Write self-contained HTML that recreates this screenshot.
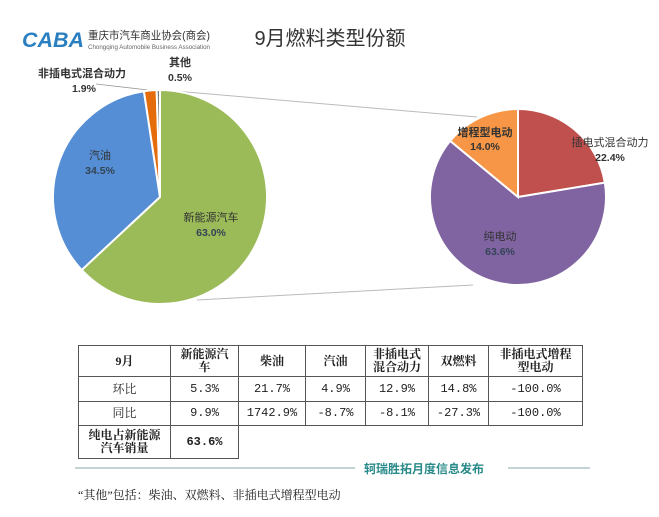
<!DOCTYPE html>
<html><head><meta charset="utf-8">
<style>
body{margin:0;width:659px;height:517px;background:#fff;position:relative;overflow:hidden;font-family:"Liberation Sans","Noto Sans CJK SC",sans-serif;}
svg{position:absolute;left:0;top:0}
table{position:absolute;left:78px;top:345px;border-collapse:collapse;font-family:"Liberation Serif","Noto Serif CJK SC",serif;font-size:12px;color:#222}
td{border:1px solid #555;text-align:center;padding:0;line-height:13px}
.b{font-weight:bold}
.m{font-family:"Liberation Mono","Noto Serif CJK SC",monospace;font-size:12px}
</style></head><body>
<svg width="659" height="517">
  <g>
    <text x="22" y="47" font-size="21" font-weight="bold" font-style="italic" fill="#2a7fc0" font-family="Liberation Sans,sans-serif" textLength="62" lengthAdjust="spacingAndGlyphs">CABA</text>
    <text x="88" y="39" font-size="11" fill="#333" textLength="122" lengthAdjust="spacingAndGlyphs">重庆市汽车商业协会(商会)</text>
    <text x="88" y="49" font-size="6.5" fill="#666" textLength="122" lengthAdjust="spacingAndGlyphs">Chongqing Automobile Business Association</text>
  </g>
  <text x="330" y="45" font-size="20" text-anchor="middle" fill="#333">9月燃料类型份额</text>
  <line x1="163" y1="90" x2="477" y2="117" stroke="#bbb" stroke-width="1"/>
  <line x1="197" y1="300" x2="473" y2="285" stroke="#bbb" stroke-width="1"/>
  <line x1="96" y1="84" x2="148" y2="90" stroke="#999" stroke-width="0.8"/>
  <g id="pie1"></g>
  <g id="pie2"></g>
  <g font-size="11" fill="#333" text-anchor="middle">
    <text x="100" y="159">汽油</text>
    <text x="100" y="174" font-size="10.5" font-weight="bold" fill="#345">34.5%</text>
    <text x="211" y="221">新能源汽车</text>
    <text x="211" y="236" font-size="10.5" font-weight="bold" fill="#345">63.0%</text>
    <text x="82" y="77" font-weight="bold">非插电式混合动力</text>
    <text x="84" y="92" font-size="10.5" font-weight="bold">1.9%</text>
    <text x="180" y="66" font-weight="bold">其他</text>
    <text x="180" y="81" font-size="10.5" font-weight="bold">0.5%</text>
    <text x="485" y="136" font-weight="bold">增程型电动</text>
    <text x="485" y="150" font-size="10.5" font-weight="bold">14.0%</text>
    <text x="610" y="146">插电式混合动力</text>
    <text x="610" y="161" font-size="10.5" font-weight="bold">22.4%</text>
    <text x="500" y="240">纯电动</text>
    <text x="500" y="255" font-size="10.5" font-weight="bold" fill="#345">63.6%</text>
  </g>
  <line x1="75" y1="468" x2="355" y2="468" stroke="#8aa" stroke-width="1"/>
  <text x="364" y="473" font-size="12" fill="#2a8a8a" font-weight="bold">轲瑞胜拓月度信息发布</text>
  <line x1="508" y1="468" x2="590" y2="468" stroke="#8aa" stroke-width="1"/>
  <text x="78" y="499" font-size="12" fill="#222" font-family="Liberation Serif,Noto Serif CJK SC,serif">“其他”包括：柴油、双燃料、非插电式增程型电动</text>
</svg>
<table>
<tr style="height:31px"><td class="b" style="width:91px">9月</td><td class="b" style="width:67px">新能源汽<br>车</td><td class="b" style="width:66px">柴油</td><td class="b" style="width:59px">汽油</td><td class="b" style="width:62px">非插电式<br>混合动力</td><td class="b" style="width:59px">双燃料</td><td class="b" style="width:93px">非插电式增程<br>型电动</td></tr>
<tr style="height:25px"><td>环比</td><td class="m">5.3%</td><td class="m">21.7%</td><td class="m">4.9%</td><td class="m">12.9%</td><td class="m">14.8%</td><td class="m">-100.0%</td></tr>
<tr style="height:24px"><td>同比</td><td class="m">9.9%</td><td class="m">1742.9%</td><td class="m">-8.7%</td><td class="m">-8.1%</td><td class="m">-27.3%</td><td class="m">-100.0%</td></tr>
<tr style="height:33px"><td class="b">纯电占新能源<br>汽车销量</td><td class="b m">63.6%</td><td style="border:none" colspan="5"></td></tr>
</table>
<script>
const pie1Cats=["新能源汽车","汽油","非插电式混合动力","其他"];
const pie1Vals=[63.0,34.5,1.9,0.5];
const pie1Colors=["#9bbb59","#558ed5","#e46c0a","#7f7f7f"];
const pie2Cats=["插电式混合动力","纯电动","增程型电动"];
const pie2Vals=[22.4,63.6,14.0];
const pie2Colors=["#c0504d","#8064a2","#f79646"];
function drawPie(g,cx,cy,r,vals,cats,colors){
  const tot=vals.reduce((a,b)=>a+b,0);let a=-Math.PI/2;
  vals.forEach((v,i)=>{
    const b=a+v/tot*2*Math.PI;
    const x1=cx+r*Math.cos(a),y1=cy+r*Math.sin(a),x2=cx+r*Math.cos(b),y2=cy+r*Math.sin(b);
    const p=document.createElementNS("http://www.w3.org/2000/svg","path");
    p.setAttribute("d",`M${cx},${cy}L${x1},${y1}A${r},${r} 0 ${b-a>Math.PI?1:0} 1 ${x2},${y2}Z`);
    p.setAttribute("fill",colors[i]);p.setAttribute("stroke","#fff");p.setAttribute("stroke-width","2");
    
    
    g.appendChild(p);a=b;
  });
}
drawPie(document.getElementById("pie1"),160,197,107,pie1Vals,pie1Cats,pie1Colors);
drawPie(document.getElementById("pie2"),518,197,88,pie2Vals,pie2Cats,pie2Colors);
</script>
</body></html>
